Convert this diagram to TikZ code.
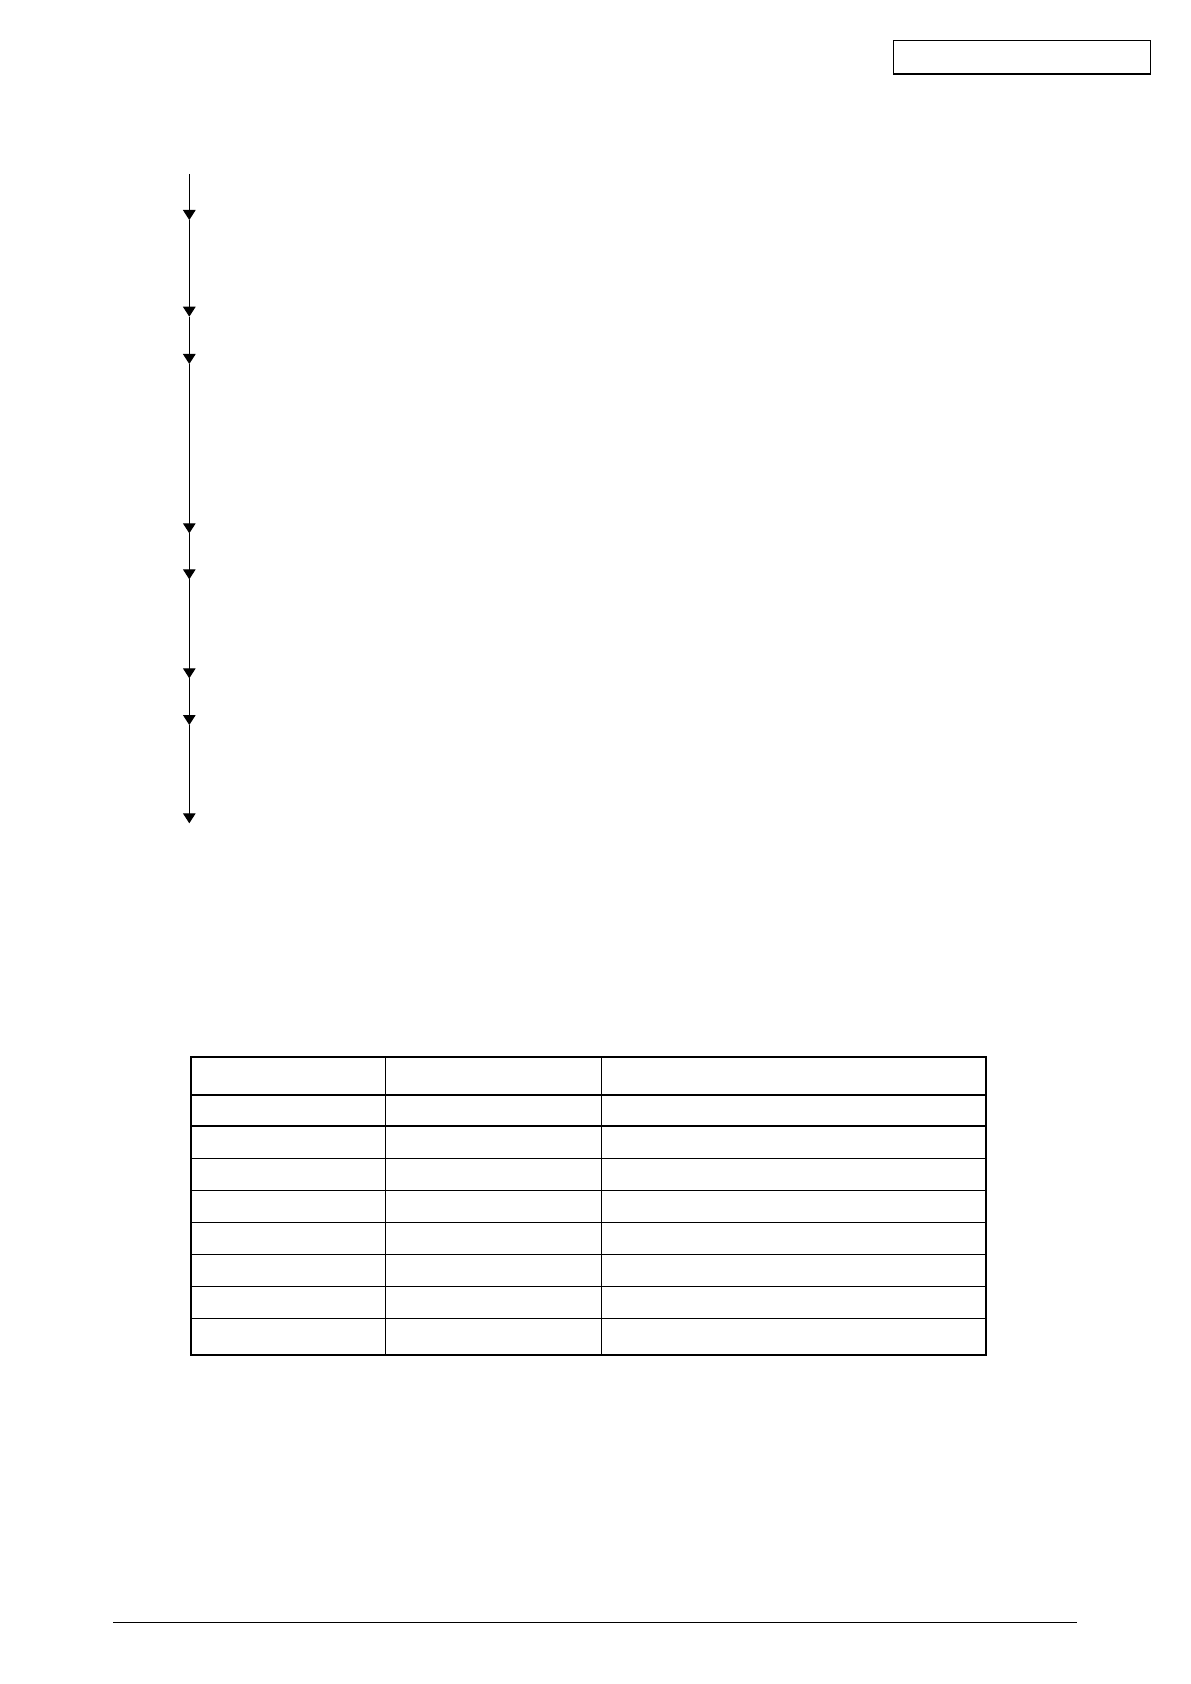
\documentclass[tikz,border=0pt]{standalone}
\usetikzlibrary{arrows.meta}
\begin{document}
\begin{tikzpicture}
        [
            x = 0.5pt, y = -0.5pt,
            flow/.style = {line width = 0.5pt, -{Triangle[length = 5pt, width = 6.3pt]}},
            thinrule/.style = {line width = 0.55pt},
            thickrule/.style = {line width = 0.85pt}
        ]
        \useasboundingbox (0,0) rectangle (1190,1684);

        % page reference box
        \node (docref) [draw, thinrule, outer sep = 0pt, minimum width = 128.7pt, minimum height = 16.85pt] at (1022,57.2) {};

        % flow down the left margin
        \foreach \name/\ypos in {s0/174, s1/220, s2/316.7, s3/364, s4/533.3, s5/579.3, s6/678.3, s7/725, s8/823.3}
            \coordinate (\name) at (189.3,\ypos);
        \foreach \from/\to in {s0/s1, s1/s2, s2/s3, s3/s4, s4/s5, s5/s6, s6/s7, s7/s8}
            \draw [flow] (\from) -- (\to);

        % table
        \coordinate (tl) at (191,1056.7);
        \coordinate (br) at (986,1355);
        \draw [line width = 0.7pt] (191,1095) -- (986,1095);
        \foreach \ypos in {1126, 1158.3, 1190.3, 1222.3, 1254.3, 1286.3, 1318.3}
            \draw [thinrule] (191,\ypos) -- (986,\ypos);
        \foreach \xpos in {385.7, 601.3}
            \draw [thinrule] (\xpos,1056.7) -- (\xpos,1355);
        \draw [thickrule] (tl) rectangle (br);

        % footer rule
        \coordinate (footl) at (113.3,1622.3);
        \coordinate (footr) at (1076.7,1622.3);
        \draw [thinrule] (footl) -- (footr);
    \end{tikzpicture}
\end{document}
